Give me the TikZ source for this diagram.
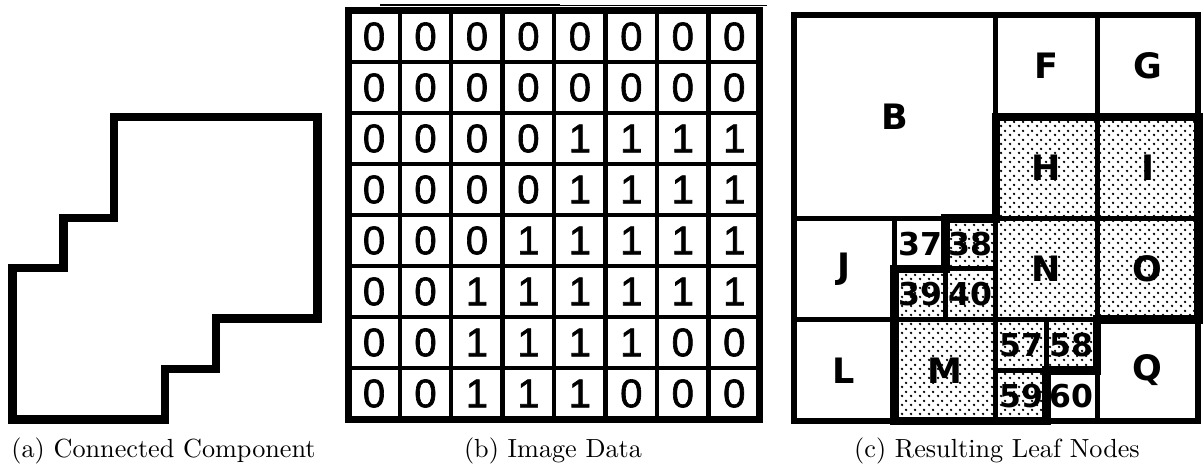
\documentclass[tikz,border=0pt]{standalone}
\usepackage{fontspec}
\newfontfamily\gridfont{Liberation Sans}[FakeBold=1.6]
\newfontfamily\letterfont{DejaVu Sans}
\usetikzlibrary{patterns.meta}

% light stipple used for the cells of the component
\tikzdeclarepattern{
  name=stipple,
  type=uncolored,
  bottom left={(0pt,0pt)},
  top right={(9pt,9pt)},
  tile size={(9pt,9pt)},
  code={
    \fill (2.25pt,2.25pt) circle (1.45pt);
    \fill (6.75pt,6.75pt) circle (1.45pt);
  }
}

\begin{document}
\begin{tikzpicture}[x=1pt,y=-1pt,
  outline/.style={line width=8.5pt,line join=miter},
  gridline/.style={line width=4.5pt},
  gridframe/.style={line width=7pt},
  digit/.style={font=\gridfont\fontsize{40}{40}\selectfont,inner sep=0pt},
  leaf/.style={draw,line width=5pt,inner sep=0pt,
    font=\letterfont\bfseries\fontsize{35}{35}\selectfont},
  leafnum/.style={leaf,font=\letterfont\bfseries\fontsize{31.5}{31.5}\selectfont},
  quad1/.style={minimum width=50.6pt,minimum height=50.7pt},
  quad2/.style={minimum width=101.2pt,minimum height=101.4pt},
  quad4/.style={minimum width=202.4pt,minimum height=202.8pt},
  caption/.style={anchor=base,inner sep=0pt},
]
\useasboundingbox (0,0) rectangle (1204,470);

% ---------- (a) outline of the connected component ----------
\begin{scope}[shift={(12.5,117)},x=50.83pt,y=-50.4pt]
  \draw[outline] (2,0) -- (6,0) -- (6,4) -- (4,4) -- (4,5) -- (3,5) -- (3,6)
    -- (0,6) -- (0,3) -- (1,3) -- (1,2) -- (2,2) -- cycle;
\end{scope}

% ---------- (b) binary image data ----------
\draw[line width=2pt] (380,5) -- (560,5);
\draw[line width=1.2pt] (560,5.5) -- (767,5.5);
\begin{scope}[shift={(348.3,11)},x=51.46pt,y=-51pt]
  \foreach \k in {1,...,7} {
    \draw[gridline] (\k,0) -- (\k,8);
    \draw[gridline] (0,\k) -- (8,\k);
  }
  \draw[gridframe] (0,0) rectangle (8,8);
  \foreach \r/\bits in {1/{0,0,0,0,0,0,0,0},2/{0,0,0,0,0,0,0,0},
                        3/{0,0,0,0,1,1,1,1},4/{0,0,0,0,1,1,1,1},
                        5/{0,0,0,1,1,1,1,1},6/{0,0,1,1,1,1,1,1},
                        7/{0,0,1,1,1,1,0,0},8/{0,0,1,1,1,0,0,0}}
    \foreach \b [count=\c] in \bits
      \node[digit] (px-\r-\c) at (\c-0.5,\r-0.5) {\b};
\end{scope}

% ---------- (c) leaf nodes of the quadtree ----------
\begin{scope}[shift={(793.5,15.5)},x=50.6pt,y=-50.7pt]
  \fill[pattern=stipple] (4,2) -- (8,2) -- (8,6) -- (6,6) -- (6,7) -- (5,7)
    -- (5,8) -- (2,8) -- (2,5) -- (3,5) -- (3,4) -- (4,4) -- cycle;
  \node[leaf,quad4] (B) at (2,2) {B};
  \node[leaf,quad2] (F) at (5,1) {F};
  \node[leaf,quad2] (G) at (7,1) {G};
  \node[leaf,quad2] (H) at (5,3) {H};
  \node[leaf,quad2] (I) at (7,3) {I};
  \node[leaf,quad2] (J) at (1,5) {J};
  \node[leafnum,quad1] (n37) at (2.5,4.5) {37};
  \node[leafnum,quad1] (n38) at (3.5,4.5) {38};
  \node[leafnum,quad1] (n39) at (2.5,5.5) {39};
  \node[leafnum,quad1] (n40) at (3.5,5.5) {40};
  \node[leaf,quad2] (N) at (5,5) {N};
  \node[leaf,quad2] (O) at (7,5) {O};
  \node[leaf,quad2] (L) at (1,7) {L};
  \node[leaf,quad2] (M) at (3,7) {M};
  \node[leafnum,quad1] (n57) at (4.5,6.5) {57};
  \node[leafnum,quad1] (n58) at (5.5,6.5) {58};
  \node[leafnum,quad1] (n59) at (4.5,7.5) {59};
  \node[leafnum,quad1] (n60) at (5.5,7.5) {60};
  \node[leaf,quad2] (Q) at (7,7) {Q};
  \draw[line width=6pt] (0,0) rectangle (8,8);
  \draw[outline] (4,2) -- (8,2) -- (8,6) -- (6,6) -- (6,7) -- (5,7)
    -- (5,8) -- (2,8) -- (2,5) -- (3,5) -- (3,4) -- (4,4) -- cycle;
\end{scope}

% ---------- captions ----------
\node[caption] (cap-a) at (163.5,457) {\scalebox{2.62}{(a) Connected Component}};
\node[caption] (cap-b) at (553,457) {\scalebox{2.62}{(b) Image Data}};
\node[caption] (cap-c) at (997,457) {\scalebox{2.62}{(c) Resulting Leaf Nodes}};
\end{tikzpicture}
\end{document}
